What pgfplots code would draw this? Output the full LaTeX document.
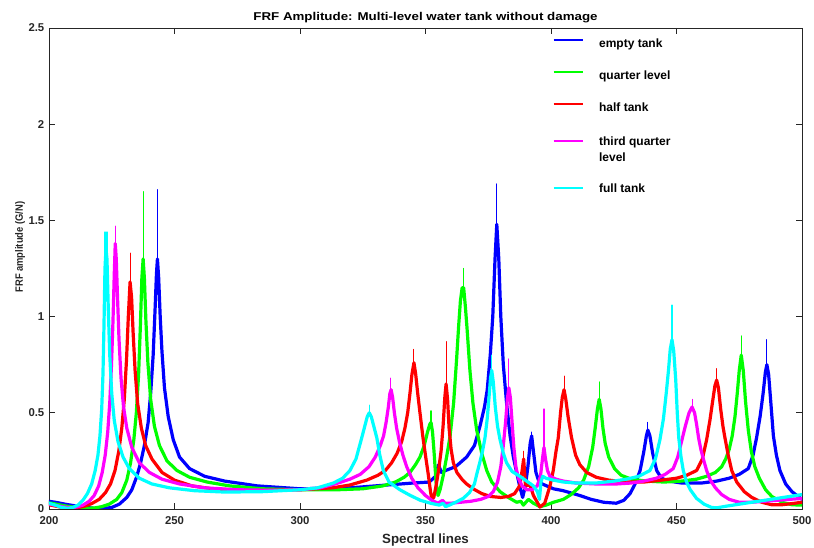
\documentclass[border=0pt]{standalone}
\usepackage{graphicx}
\usepackage{pgfplots}
\pgfplotsset{compat=1.18}
\usepackage{fontspec}
\setmainfont{Liberation Sans}
\definecolor{axgray}{RGB}{38,38,38}
\pgfplotsset{lowlegend/.style={legend image code/.code={\draw[##1, line width=1.5pt, line cap=butt] (0pt,-1.8pt) -- (22pt,-1.8pt); \path (31pt,-1.8pt);}}}
\begin{document}
\begin{tikzpicture}
\begin{axis}[
  scale only axis,
  width=564.75pt, height=360.75pt,
  xmin=200, xmax=500, ymin=0, ymax=2.5,
  xtick={200,250,300,350,400,450,500},
  ytick={0,0.5,1,1.5,2,2.5},
  yticklabels={0,0.5,1,1.5,2,2.5},
  tick align=inside,
  major tick length=4.5pt,
  axis line style={axgray, line width=0.6pt},
  tick style={axgray, line width=0.6pt},
  /pgf/number format/assume math mode=true,
  ticklabel style={font=\bfseries\fontsize{8.5}{10}\selectfont, text=axgray},
  xticklabel style={yshift=-2.5pt},
  title={\scalebox{1}[0.85]{FRF Amplitude: Multi-level water tank without damage}},
  title style={font=\bfseries\fontsize{10}{12}\selectfont, text=black, yshift=-5.6pt},
  xlabel={Spectral lines},
  xlabel style={font=\bfseries\fontsize{10}{12}\selectfont, text=axgray},
  ylabel={\scalebox{0.88}[1]{FRF amplitude (G/N)}},
  ylabel style={font=\bfseries\fontsize{8}{10}\selectfont, text=axgray, at={(axis description cs:-0.0385,0.5445)}, anchor=center},
  unbounded coords=jump,
  every axis plot/.append style={line join=round, line cap=round},
  legend style={at={(rel axis cs:0.663,0.99)}, anchor=north west, draw=none, fill=none,
    font=\bfseries\fontsize{9}{12}\selectfont, row sep=12pt, cells={anchor=west, align=left}},
  legend cell align=left,
  legend image code/.code={\draw[#1, line width=1.5pt, line cap=butt] (0pt,0.3em) -- (22pt,0.3em); \path (31pt,0.3em);},
]
% ---------------- empty tank ----------------
\addplot[color={rgb,1:red,0;green,0;blue,1}, line width=2.4pt] coordinates {
(200,0.040) (203,0.034) (206,0.026) (210,0.017) (214,0.009) (218,0.004) (222,0.003) (225,0.008)
(228,0.025) (231,0.06) (233,0.1) (235,0.17) (236.5,0.24) (238,0.33) (239.5,0.45) (240.5,0.6)
(241.5,0.8) (242.3,1.05) (242.8,1.22) (243.2,1.3) (243.7,1.2) (244.3,1.0) (245,0.82) (246,0.63)
(247.5,0.48) (249.5,0.36) (252,0.27) (256,0.21) (262,0.17) (270,0.145) (283,0.12) (300,0.105)
(320,0.11) (335,0.125) (345,0.135) (351.5,0.14) (354,0.17) (355.2,0.23) (356.3,0.19) (358,0.2)
(362,0.22) (366.4,0.27) (369.5,0.33) (371.7,0.43) (373.5,0.53) (374.6,0.62) (375.8,0.8) (376.8,1.0)
(377.7,1.3) (378.4,1.48) (379.2,1.3) (380,1.0) (381,0.75) (382.3,0.55) (383.7,0.38) (385,0.27)
(386.3,0.19) (387.5,0.12) (388.7,0.06) (389.8,0.12) (390.8,0.22) (391.7,0.34) (392.3,0.38) (393,0.3)
(394,0.19) (395,0.15) (396.5,0.13) (398.3,0.12) (401,0.105) (404.9,0.095) (411.5,0.07) (416,0.05)
(421,0.035) (426,0.03) (429,0.045) (431.5,0.08) (433.5,0.13) (435.5,0.2) (437,0.3) (438,0.38)
(438.6,0.41) (439.4,0.38) (440.5,0.29) (442.1,0.2) (444,0.16) (447,0.145) (452,0.135) (460,0.135)
(466,0.145) (471,0.16) (475,0.18) (478.6,0.21) (480.5,0.28) (481.9,0.37) (483.3,0.48) (484.5,0.6)
(485.4,0.71) (486,0.75) (486.7,0.7) (487.6,0.55) (488.6,0.38) (489.8,0.28) (491.2,0.2) (493.5,0.13)
(496,0.09) (500,0.05)
};
\addlegendentry{empty tank}
\addplot[forget plot, color={rgb,1:red,0;green,0;blue,1}, line width=0.8pt] coordinates {
(243.2,1.2) (243.2,1.66) (243.2,nan) (378.4,1.4) (378.4,1.69) (378.4,nan)
(486,0.7) (486,0.88) (486,nan) (392.3,0.35) (392.3,0.40) (392.3,nan) (438.6,0.4) (438.6,0.45)
};
% ---------------- quarter level ----------------
\addplot[color={rgb,1:red,0;green,1;blue,0}, line width=2.4pt] coordinates {
(200,0.032) (203,0.025) (206,0.017) (210,0.009) (214,0.004) (218,0.005) (221,0.012) (224,0.025)
(227,0.05) (229,0.085) (231,0.15) (232.5,0.24) (233.8,0.36) (234.8,0.5) (235.7,0.7) (236.4,0.95)
(237,1.2) (237.5,1.3) (238,1.2) (238.6,0.98) (239.4,0.76) (240.5,0.57) (242,0.43) (244,0.33)
(247,0.25) (251,0.2) (256,0.165) (263,0.14) (272,0.12) (285,0.105) (300,0.1) (315,0.1)
(325,0.105) (333,0.12) (338,0.14) (341.5,0.165) (343.8,0.19) (346,0.23) (347.8,0.27) (349.5,0.33)
(350.8,0.4) (351.7,0.44) (352.2,0.45) (352.8,0.4) (353.5,0.28) (354.2,0.14) (355,0.07) (355.8,0.1)
(357,0.17) (358.4,0.27) (359.8,0.38) (361.2,0.55) (362.4,0.78) (363.2,0.95) (363.9,1.08) (364.6,1.15)
(365.2,1.15) (365.9,1.05) (366.6,0.93) (367.7,0.72) (368.9,0.55) (370.4,0.41) (372.4,0.29) (374.4,0.2)
(376.4,0.14) (379.7,0.09) (383,0.06) (386.3,0.035) (388,0.04) (389,0.02) (391,0.05) (393,0.03)
(395.6,0.012) (398,0.02) (401,0.035) (404.9,0.05) (408,0.075) (411,0.11) (413,0.15) (415,0.22)
(416.6,0.32) (417.6,0.42) (418.5,0.52) (419.2,0.57) (419.9,0.52) (420.7,0.42) (421.6,0.34) (423,0.27)
(425.3,0.21) (428,0.175) (432,0.155) (438,0.145) (445,0.14) (452,0.145) (458,0.155) (462,0.17)
(465.5,0.19) (468,0.22) (469.6,0.26) (471,0.31) (472.2,0.38) (473.3,0.48) (474.2,0.6) (475,0.72)
(475.8,0.8) (476.6,0.72) (477.5,0.56) (478.6,0.41) (479.8,0.3) (481.2,0.22) (483,0.16) (485.5,0.1)
(488,0.065) (492,0.035) (496,0.022) (500,0.02)
};
\addlegendentry{quarter level}
\addplot[forget plot, color={rgb,1:red,0;green,1;blue,0}, line width=0.8pt] coordinates {
(237.5,1.2) (237.5,1.65) (237.5,nan) (352.2,0.42) (352.2,0.51) (352.2,nan)
(365,1.1) (365,1.25) (365,nan) (419.2,0.55) (419.2,0.66) (419.2,nan) (475.8,0.78) (475.8,0.90)
};
% ---------------- half tank ----------------
\addplot[color={rgb,1:red,1;green,0;blue,0}, line width=2.4pt] coordinates {
(200,0.022) (203,0.014) (206,0.006) (208,0.003) (211,0.006) (214,0.014) (217,0.028) (220,0.05)
(222.5,0.085) (224.5,0.13) (226.3,0.2) (227.8,0.3) (229,0.42) (230,0.57) (230.9,0.78) (231.6,1.0)
(232.3,1.18) (232.9,1.1) (233.5,0.92) (234.3,0.72) (235.3,0.55) (236.8,0.42) (238.5,0.33) (241,0.26)
(245,0.19) (250,0.15) (257,0.12) (265,0.105) (280,0.095) (300,0.1) (313,0.11) (320,0.125)
(326.6,0.15) (331,0.175) (334,0.2) (336.5,0.24) (338.7,0.29) (340.5,0.35) (341.8,0.42) (342.9,0.5)
(343.8,0.6) (344.6,0.7) (345.4,0.76) (346.1,0.7) (346.9,0.6) (347.8,0.5) (349,0.37) (350.2,0.26)
(351.1,0.18) (351.9,0.1) (352.5,0.05) (353.3,0.06) (354.2,0.12) (355.2,0.2) (356.2,0.3) (357,0.43)
(357.7,0.58) (358.2,0.65) (358.8,0.57) (359.4,0.42) (360.2,0.31) (361.1,0.24) (362.5,0.19) (364.5,0.155)
(366.4,0.13) (369,0.105) (372.4,0.08) (376,0.065) (380,0.06) (383,0.065) (385.5,0.08) (387.5,0.12)
(388.5,0.2) (389.1,0.26) (389.8,0.13) (390.5,0.12) (391.5,0.13) (393,0.07) (395.6,0.01) (397.5,0.03)
(399.6,0.12) (400.9,0.2) (402,0.3) (402.9,0.37) (403.8,0.5) (404.5,0.58) (405.2,0.62) (405.9,0.57)
(406.8,0.48) (408.2,0.37) (409.8,0.28) (411.5,0.23) (414.2,0.19) (418,0.165) (423,0.15) (430,0.14)
(437,0.14) (444,0.15) (450,0.16) (454,0.175) (458,0.2) (460.3,0.26) (462,0.36) (463.3,0.46)
(464.4,0.56) (465.3,0.64) (466,0.67) (466.7,0.63) (467.6,0.52) (468.5,0.43) (469.3,0.37) (470.6,0.28)
(472,0.2) (474,0.14) (477,0.09) (480,0.06) (484,0.035) (488,0.022) (492,0.022) (496,0.028) (500,0.035)
};
\addlegendentry{half tank}
\addplot[forget plot, color={rgb,1:red,1;green,0;blue,0}, line width=0.8pt] coordinates {
(232.3,1.1) (232.3,1.33) (232.3,nan) (345.4,0.72) (345.4,0.83) (345.4,nan)
(358.2,0.6) (358.2,0.87) (358.2,nan) (405.2,0.6) (405.2,0.69) (405.2,nan)
(466,0.65) (466,0.73) (466,nan) (389.1,0.2) (389.1,0.3)
};
% ---------------- third quarter level ----------------
\addplot[color={rgb,1:red,1;green,0;blue,1}, line width=2.4pt] coordinates {
(200,0.026) (203,0.018) (206,0.01) (208.5,0.007) (211,0.01) (213.5,0.02) (216,0.04) (218,0.07)
(219.8,0.12) (221.2,0.19) (222.4,0.28) (223.4,0.4) (224.2,0.55) (224.9,0.75) (225.5,0.98) (226,1.22)
(226.4,1.38) (226.8,1.3) (227.3,1.1) (227.9,0.88) (228.7,0.68) (229.7,0.53) (231,0.42) (233,0.32)
(236,0.24) (240,0.19) (245,0.155) (252,0.13) (262,0.11) (275,0.1) (290,0.097) (300,0.1)
(308,0.11) (314,0.13) (319.9,0.155) (324,0.18) (327.5,0.22) (330,0.27) (332,0.33) (333.3,0.38)
(334.3,0.45) (335.2,0.53) (335.8,0.6) (336.3,0.62) (336.9,0.58) (337.6,0.5) (338.5,0.42) (339.6,0.35)
(341,0.28) (342.5,0.22) (344.5,0.16) (347,0.11) (350,0.07) (352.5,0.045) (355,0.03) (356.8,0.045)
(357.8,0.03) (360,0.03) (364,0.035) (368,0.04) (372,0.05) (375,0.065) (377,0.09) (378.7,0.14)
(380,0.22) (381,0.33) (381.9,0.45) (382.6,0.57) (383.2,0.63) (383.8,0.58) (384.5,0.45) (385.2,0.32)
(386,0.22) (387,0.16) (388.5,0.12) (390.3,0.1) (392.5,0.1) (394.5,0.12) (395.8,0.17) (396.6,0.26)
(397.2,0.32) (397.8,0.26) (398.6,0.2) (399.6,0.17) (402,0.155) (404.9,0.145) (410,0.135) (418,0.13)
(426,0.13) (432,0.135) (437,0.145) (442,0.16) (445.5,0.18) (448.7,0.21) (450.5,0.27) (452,0.35)
(453.5,0.43) (455,0.5) (456.2,0.53) (457.2,0.5) (458,0.44) (458.8,0.37) (459.7,0.31) (460.7,0.26)
(462,0.2) (463.5,0.15) (465.5,0.11) (468,0.075) (471,0.05) (475,0.035) (480,0.035) (485,0.04)
(490,0.045) (495,0.05) (500,0.055)
};
\addlegendentry{\begin{tabular}{@{}l@{}}third quarter\\level\end{tabular}}
\addplot[forget plot, color={rgb,1:red,1;green,0;blue,1}, line width=0.8pt] coordinates {
(226.4,1.3) (226.4,1.47) (226.4,nan) (336.1,0.6) (336.1,0.68) (336.1,nan)
(383.2,0.6) (383.2,0.78) (383.2,nan) (397.2,0.3) (397.2,0.52) (397.2,nan) (456.3,0.52) (456.3,0.57)
};
% ---------------- full tank ----------------
\addplot[color={rgb,1:red,0;green,1;blue,1}, line width=2.4pt, lowlegend] coordinates {
(200,0.03) (202.5,0.02) (205,0.008) (207.5,0.003) (209.5,0.008) (211.5,0.02) (213.5,0.045) (215.3,0.08)
(217,0.13) (218.4,0.2) (219.5,0.28) (220.3,0.38) (221,0.52) (221.5,0.7) (221.9,0.95) (222.3,1.25)
(222.7,1.35) (223.1,1.3) (223.6,1.05) (224.2,0.8) (225,0.6) (226,0.46) (227.5,0.35) (229.5,0.27)
(232,0.21) (236,0.16) (241,0.13) (248,0.11) (258,0.095) (270,0.088) (285,0.09) (300,0.1)
(307,0.11) (313.3,0.135) (317,0.16) (319.9,0.2) (322.3,0.26) (324.6,0.37) (325.8,0.43) (326.8,0.48)
(327.6,0.5) (328.4,0.48) (329.4,0.43) (330.6,0.37) (331.8,0.28) (333.2,0.2) (335.5,0.14) (339.8,0.1)
(344,0.07) (348,0.045) (352,0.03) (355.5,0.02) (357,0.03) (358,0.012) (359.5,0.02) (362,0.035)
(365,0.055) (367.5,0.085) (369.5,0.13) (370.4,0.18) (371.6,0.24) (372.7,0.3) (373.7,0.37) (374.6,0.47)
(375.3,0.58) (375.9,0.68) (376.4,0.72) (377,0.66) (377.8,0.53) (378.7,0.43) (379.7,0.36) (381,0.29)
(382.3,0.24) (384.5,0.195) (387.6,0.17) (390.3,0.145) (393,0.12) (394.6,0.09) (395.4,0.05) (396,0.14)
(396.7,0.17) (398,0.16) (400.9,0.15) (405,0.14) (410,0.135) (418,0.135) (425,0.145) (430,0.155)
(435,0.17) (439.4,0.2) (441.6,0.26) (443.4,0.36) (444.8,0.47) (445.9,0.6) (446.8,0.72) (447.5,0.83)
(448.2,0.88) (448.9,0.82) (449.7,0.67) (450.3,0.5) (450.9,0.37) (451.8,0.27) (452.7,0.2) (454,0.14)
(455.5,0.1) (458,0.055) (461,0.025) (464,0.008) (466,0.006) (470,0.015) (475,0.025) (480,0.035)
(485,0.045) (490,0.055) (495,0.065) (500,0.075)
};
\addlegendentry{\rule{0pt}{12pt}full tank}
\addplot[forget plot, color={rgb,1:red,0;green,1;blue,1}, line width=0.8pt] coordinates {
(222.3,1.3) (222.3,1.44) (222.3,nan) (223.1,1.25) (223.1,1.44) (223.1,nan)
(327.6,0.5) (327.6,0.54) (327.6,nan) (376.2,0.7) (376.2,0.8) (376.2,nan) (448.2,0.85) (448.2,1.06)
};
\end{axis}
\pgfresetboundingbox
\useasboundingbox ([shift={(-36.75pt,-29.25pt)}]current axis.south west) rectangle ([shift={(9pt,21pt)}]current axis.north east);
\end{tikzpicture}
\end{document}
